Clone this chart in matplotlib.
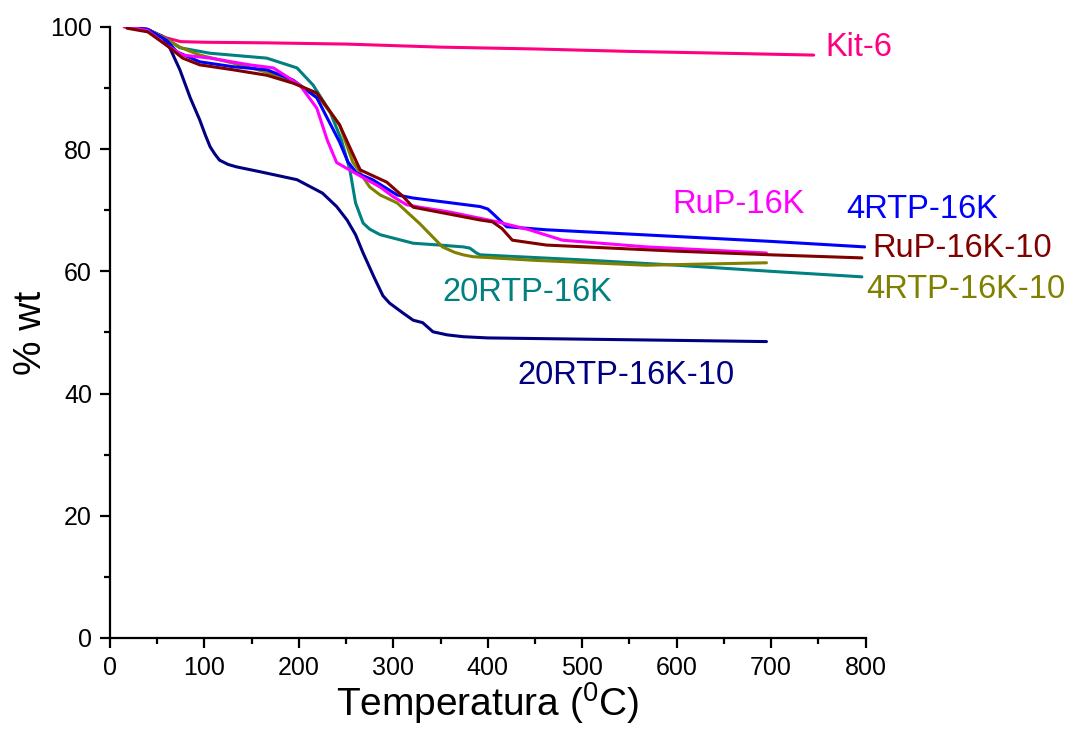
import matplotlib
matplotlib.use("Agg")
import matplotlib.pyplot as plt
from matplotlib.ticker import MultipleLocator

plt.rcParams['font.family'] = ['Liberation Sans', 'DejaVu Sans']
plt.rcParams['mathtext.fontset'] = 'custom'
plt.rcParams['mathtext.rm'] = 'Liberation Sans'
plt.rcParams['mathtext.it'] = 'Liberation Sans'

# Kit-6
kit6_x = [15, 40, 60, 75, 100, 166, 250, 350, 450, 550, 650, 745]
kit6_y = [100, 99.5, 98.2, 97.6, 97.5, 97.4, 97.2, 96.7, 96.4, 96.0, 95.7, 95.4]

# 20RTP-16K-10
n20k10_x = [20, 40, 55, 63, 74, 85, 95, 101, 106, 111, 116, 125, 134, 159, 198, 225, 240,
            251, 260, 268, 280, 289, 296, 310, 321, 331, 342, 357, 374, 400, 500, 600, 695]
n20k10_y = [100, 99.6, 98.5, 96.7, 93.0, 88.4, 84.8, 82.3, 80.4, 79.2, 78.2, 77.5, 77.1,
            76.3, 75.0, 72.8, 70.6, 68.4, 66.0, 63.0, 58.9, 56.0, 54.8, 53.2, 52.0, 51.6,
            50.1, 49.6, 49.3, 49.1, 48.9, 48.7, 48.5]

# 20RTP-16K
t20k_x = [20, 40, 60, 74, 106, 166, 198, 215, 233, 245, 254, 260, 268, 275, 286, 321,
          349, 374, 381, 388, 392, 497, 600, 700, 796]
t20k_y = [100, 99.6, 98.0, 96.6, 95.7, 94.9, 93.3, 90.5, 86.1, 81.5, 76.6, 71.2, 67.9,
          66.9, 66.0, 64.6, 64.3, 64.0, 63.8, 63.0, 62.7, 61.9, 61.0, 60.0, 59.1]

# 4RTP-16K-10
o4k10_x = [20, 40, 60, 74, 95, 130, 166, 194, 219, 243, 257, 265, 275, 286, 304, 328,
           352, 365, 374, 384, 450, 568, 695]
o4k10_y = [100, 99.6, 98.0, 96.7, 95.4, 94.1, 92.6, 91.0, 88.9, 84.0, 77.9, 76.1, 73.8,
           72.5, 71.2, 67.8, 64.0, 63.1, 62.7, 62.4, 61.8, 61.0, 61.4]

# 4RTP-16K
b4k_x = [20, 40, 60, 71, 95, 130, 166, 194, 219, 243, 252, 261, 278, 304, 321, 392,
         400, 405, 420, 462, 600, 700, 799]
b4k_y = [100, 99.6, 97.8, 95.9, 94.3, 93.5, 93.0, 91.3, 88.4, 81.2, 77.9, 76.1, 75.0,
         72.5, 72.0, 70.6, 70.2, 69.5, 67.3, 66.8, 65.7, 64.9, 64.0]

# RuP-16K
m16k_x = [20, 40, 60, 77, 106, 148, 173, 201, 219, 230, 240, 257, 286, 300, 314, 328,
          360, 410, 444, 479, 568, 695]
m16k_y = [100, 99.4, 97.0, 95.4, 94.9, 93.8, 93.3, 90.5, 86.7, 81.5, 77.8, 76.3, 73.8,
          72.2, 70.9, 70.5, 69.7, 68.1, 66.8, 65.1, 64.0, 63.0]

# RuP-16K-10
r16k10_x = [18, 40, 60, 77, 95, 130, 166, 194, 219, 243, 261, 265, 293, 310, 321, 392,
            405, 415, 426, 462, 600, 700, 796]
r16k10_y = [99.8, 99.2, 97.0, 94.9, 93.8, 93.0, 92.1, 90.8, 89.2, 84.0, 77.9, 76.6,
            74.6, 72.3, 70.5, 68.4, 68.1, 67.0, 65.1, 64.3, 63.3, 62.7, 62.2]

series = [
    (kit6_x, kit6_y, '#FF0080', 'Kit-6', 757, 96.7),
    (n20k10_x, n20k10_y, '#000080', '20RTP-16K-10', 431, 43.0),
    (t20k_x, t20k_y, '#008080', '20RTP-16K', 352, 56.5),
    (o4k10_x, o4k10_y, '#808000', '4RTP-16K-10', 801, 57.0),
    (b4k_x, b4k_y, '#0000FF', '4RTP-16K', 780, 70.2),
    (m16k_x, m16k_y, '#FF00FF', 'RuP-16K', 595, 70.9),
    (r16k10_x, r16k10_y, '#800000', 'RuP-16K-10', 807, 63.8),
]

fig = plt.figure(figsize=(10.78, 7.29), dpi=100)
ax = fig.add_axes([0.102, 0.125, 0.701, 0.838])

for xs, ys, c, lab, lx, ly in series:
    ax.plot(xs, ys, color=c, linewidth=2.2, solid_joinstyle='round', solid_capstyle='round')
    ax.text(lx, ly, lab, color=c, fontsize=23.5, ha='left', va='center', clip_on=False)

ax.set_xlim(0, 800)
ax.set_ylim(0, 100)
ax.xaxis.set_major_locator(MultipleLocator(100))
ax.xaxis.set_minor_locator(MultipleLocator(50))
ax.yaxis.set_major_locator(MultipleLocator(20))
ax.yaxis.set_minor_locator(MultipleLocator(10))
ax.spines['top'].set_visible(False)
ax.spines['right'].set_visible(False)
for s in ['left', 'bottom']:
    ax.spines[s].set_linewidth(1.6)
ax.tick_params(which='major', direction='out', length=7, width=1.6, labelsize=18, pad=6)
ax.tick_params(which='minor', direction='out', length=4, width=1.6)

ax.set_xlabel('Temperatura ($^0$C)', fontsize=28, labelpad=0)
ax.set_ylabel('% wt', fontsize=28, labelpad=1)

fig.savefig('out.png', dpi=100)
